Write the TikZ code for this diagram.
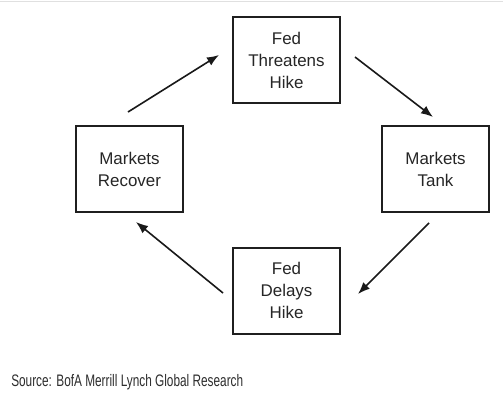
\documentclass[tikz,border=0pt]{standalone}
\usepackage{fontspec}
\setmainfont{Liberation Sans}
\usetikzlibrary{arrows.meta}
\begin{document}
\begin{tikzpicture}[x=0.75pt,y=-0.75pt,
  stagebox/.style={draw=black!88,line width=1.5pt,minimum width=107*0.75pt,minimum height=86*0.75pt,
    align=center,inner sep=0pt,font=\fontsize{12.7pt}{16.5pt}\selectfont,text=black!85},
  flow/.style={draw=black!90,line width=1.2pt,-{Latex[length=9pt,width=7pt]}}]
\useasboundingbox[fill=white] (0,0) rectangle (503,400);
\draw[black!12,line width=0.9pt] (0,1.5) coordinate (tl) -- (503,1.5) coordinate (tr);
\node[stagebox] (top) at (286.5,60) {Fed\\Threatens\\Hike};
\node[stagebox] (left) at (129.5,169) {Markets\\Recover};
\node[stagebox] (right) at (435.5,169) {Markets\\Tank};
\node[stagebox] (bottom) at (286.5,290.5) {Fed\\Delays\\Hike};
\coordinate (a1s) at (128,112); \coordinate (a1e) at (219,55);
\coordinate (a2s) at (355,57);  \coordinate (a2e) at (433,117);
\coordinate (a3s) at (429,223); \coordinate (a3e) at (358,294);
\coordinate (a4s) at (223,293); \coordinate (a4e) at (136,222);
\draw[flow] (a1s) -- (a1e);
\draw[flow] (a2s) -- (a2e);
\draw[flow] (a3s) -- (a3e);
\draw[flow] (a4s) -- (a4e);
\node[anchor=base west,inner sep=0pt,text=black!82,font=\fontsize{12.5pt}{14pt}\selectfont] (src) at (11,386.5)
  {\resizebox{174pt}{\height}{Source: BofA Merrill Lynch Global Research}};
\end{tikzpicture}
\end{document}
